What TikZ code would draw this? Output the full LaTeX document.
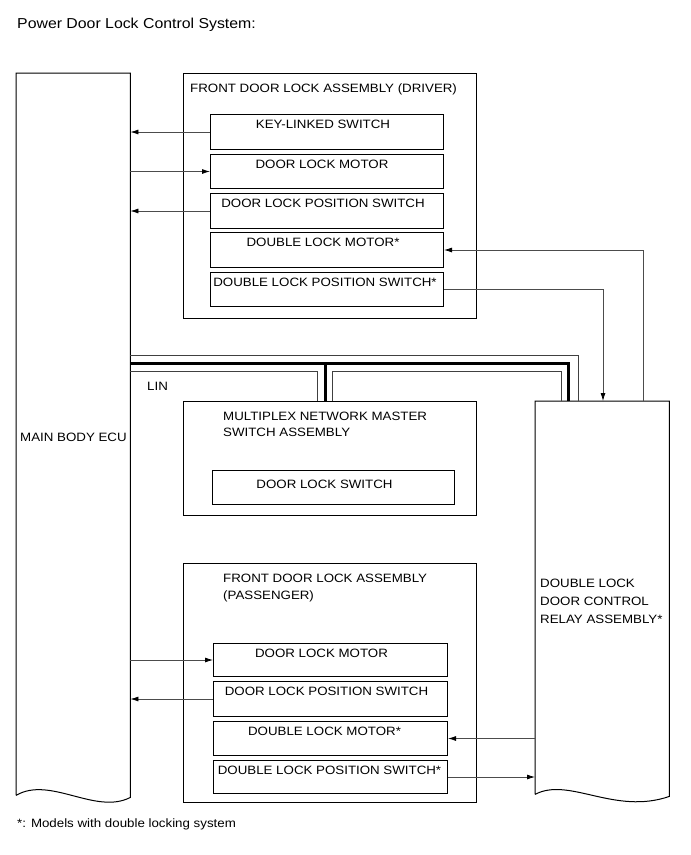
\documentclass[tikz,border=0pt]{standalone}
\usepackage{fontspec}
\setmainfont{Liberation Sans}[FakeStretch=1.1]
\usetikzlibrary{arrows.meta}
\begin{document}
\begin{tikzpicture}[x=1pt,y=-1pt,
  box/.style={draw=black,line width=1pt,rectangle,inner sep=0pt,anchor=north west},
  area/.style={rectangle,inner sep=0pt,anchor=north west},
  lbl/.style={anchor=base,inner sep=0pt,font=\fontsize{12.1}{14}\selectfont},
  lbll/.style={anchor=base west,inner sep=0pt,font=\fontsize{12.1}{14}\selectfont},
  outline/.style={draw=black,line width=1pt},
  conn/.style={draw=black!70,line width=0.8pt},
  arr/.style={conn,-{Latex[length=8pt,width=5pt,color=black]}},
  bus/.style={draw=black!75,line width=0.9pt},
  busthick/.style={draw=black,line width=3pt}]
\useasboundingbox (0,0) rectangle (691,855);

% title
\node[anchor=base west,inner sep=0pt,font=\fontsize{14.4}{16}\selectfont] (title) at (17,28) {Power Door Lock Control System:};

% main body ECU
\node[area,minimum width=114pt,minimum height=724pt] (ecu) at (16,73) {};
\draw[outline] ([yshift=2pt]ecu.south west) -- (ecu.north west) -- (ecu.north east) -- (ecu.south east)
  .. controls +(-35,18) and +(34,-20) .. ([yshift=2pt]ecu.south west);
\node[lbll] (ecut) at (20,441) {MAIN BODY ECU};

% relay
\node[area,minimum width=134pt,minimum height=395pt] (relay) at (535,401) {};
\draw[outline] ([yshift=2pt]relay.south west) -- (relay.north west) -- (relay.north east) -- (relay.south east)
  .. controls +(-55,19) and +(34,-18) .. ([yshift=2pt]relay.south west);
\node[lbll] (rt1) at (540,587) {DOUBLE LOCK};
\node[lbll] (rt2) at (540,605) {DOOR CONTROL};
\node[lbll] (rt3) at (540,623) {RELAY ASSEMBLY*};

% driver assembly
\node[box,minimum width=293pt,minimum height=245pt] (drv) at (183,73) {};
\node[lbll] (drvt) at (190,92) {FRONT DOOR LOCK ASSEMBLY (DRIVER)};
\node[box,minimum width=233pt,minimum height=35pt] (kls) at (210,114) {};
\node[box,minimum width=233pt,minimum height=34pt] (dlm1) at (210,154) {};
\node[box,minimum width=233pt,minimum height=35pt] (dlps1) at (210,193) {};
\node[box,minimum width=233pt,minimum height=35pt] (ddlm1) at (210,232) {};
\node[box,minimum width=233pt,minimum height=34pt] (ddlps1) at (210,272) {};
\node[lbl] (klst) at ([xshift=-4pt,yshift=-14pt]kls.north) {KEY-LINKED SWITCH};
\node[lbl] (dlm1t) at ([xshift=-5pt,yshift=-14pt]dlm1.north) {DOOR LOCK MOTOR};
\node[lbl] (dlps1t) at ([xshift=-4pt,yshift=-14pt]dlps1.north) {DOOR LOCK POSITION SWITCH};
\node[lbl] (ddlm1t) at ([xshift=-4pt,yshift=-14pt]ddlm1.north) {DOUBLE LOCK MOTOR*};
\node[lbl] (ddlps1t) at ([xshift=-2pt,yshift=-14pt]ddlps1.north) {DOUBLE LOCK POSITION SWITCH*};

% multiplex network master switch
\node[box,minimum width=293pt,minimum height=114pt] (mnm) at (183,401) {};
\node[lbll] (mnmt1) at (223,420) {MULTIPLEX NETWORK MASTER};
\node[lbll] (mnmt2) at (223,436) {SWITCH ASSEMBLY};
\node[box,minimum width=242pt,minimum height=34pt] (dls) at (212,470) {};
\node[lbl] (dlst) at ([xshift=-9pt,yshift=-18pt]dls.north) {DOOR LOCK SWITCH};

% passenger assembly
\node[box,minimum width=293pt,minimum height=239pt] (pas) at (183,563) {};
\node[lbll] (past1) at (223,582) {FRONT DOOR LOCK ASSEMBLY};
\node[lbll] (past2) at (223,599) {(PASSENGER)};
\node[box,minimum width=234pt,minimum height=33pt] (pdlm) at (213,643) {};
\node[box,minimum width=234pt,minimum height=35pt] (pdlps) at (213,681) {};
\node[box,minimum width=234pt,minimum height=34pt] (pddlm) at (213,721) {};
\node[box,minimum width=234pt,minimum height=33pt] (pddlps) at (213,760) {};
\node[lbl] (pdlmt) at ([xshift=-9pt,yshift=-14pt]pdlm.north) {DOOR LOCK MOTOR};
\node[lbl] (pdlpst) at ([xshift=-4pt,yshift=-14pt]pdlps.north) {DOOR LOCK POSITION SWITCH};
\node[lbl] (pddlmt) at ([xshift=-6pt,yshift=-14pt]pddlm.north) {DOUBLE LOCK MOTOR*};
\node[lbl] (pddlpst) at ([xshift=-1pt,yshift=-14pt]pddlps.north) {DOUBLE LOCK POSITION SWITCH*};

% LIN bus
\node[lbll] (lin) at (147,390) {LIN};
\draw[bus] ([yshift=-282pt]ecu.north east) -| ([xshift=43pt]relay.north west);
\draw[busthick] ([yshift=-290pt]ecu.north east) -| ([xshift=33pt]relay.north west);
\draw[busthick] ([xshift=142pt]mnm.north west) -- ++(0,-38);
\draw[bus] ([yshift=-298pt]ecu.north east) -| ([xshift=134pt]mnm.north west);
\draw[bus] ([xshift=149pt]mnm.north west) -- ++(0,-30) -| ([xshift=26pt]relay.north west);

% driver connectors
\draw[arr] (kls.west) -- (kls.west -| ecu.east);
\draw[arr] (dlm1.west -| ecu.east) -- (dlm1.west);
\draw[arr] (dlps1.west) -- (dlps1.west -| ecu.east);
\draw[arr] ([xshift=108pt]relay.north west) |- (ddlm1.east);
\draw[arr] (ddlps1.east) -| ([xshift=68pt]relay.north west);

% passenger connectors
\draw[arr] (pdlm.west -| ecu.east) -- (pdlm.west);
\draw[arr] (pdlps.west) -- (pdlps.west -| ecu.east);
\draw[arr] (pddlm.east -| relay.west) -- (pddlm.east);
\draw[arr] (pddlps.east) -- (pddlps.east -| relay.west);

% footnote
\node[lbll] (foot) at (17,827) {*: Models with double locking system};
\end{tikzpicture}
\end{document}
